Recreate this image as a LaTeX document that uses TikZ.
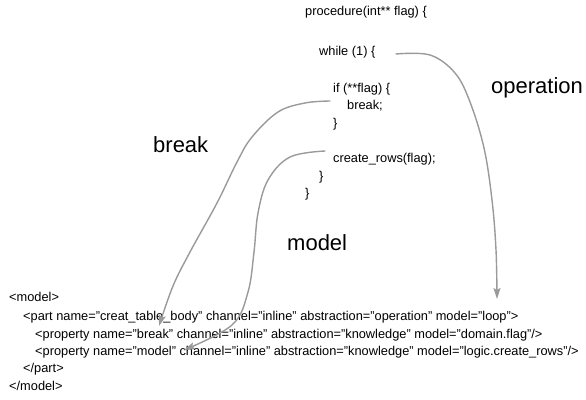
\documentclass[tikz,border=0pt]{standalone}
\usepackage{fontspec}
\setmainfont{Liberation Sans}
\usetikzlibrary{arrows.meta}
\definecolor{linkgray}{HTML}{9A9A9A}
\begin{document}
\begin{tikzpicture}[x=1pt,y=-1pt,
  code/.style={anchor=mid west,inner sep=0pt,font=\fontsize{12.8}{15}\selectfont},
  xml/.style={anchor=mid west,inner sep=0pt,font=\fontsize{12.8}{15}\selectfont},
  tag/.style={anchor=mid west,inner sep=0pt,font=\fontsize{22}{26}\selectfont},
  conn/.style={draw=linkgray,line width=1.4pt,line cap=round,
    -{Stealth[length=11pt,width=7pt,inset=2pt,fill=linkgray]}}]
\useasboundingbox (0,0) rectangle (586,399);

% procedure source
\node[code] (proc)  at (305,13)  {procedure(int** flag) \{};
\node[code] (loop)  at (319,53)  {while (1) \{};
\node[code] (cond)  at (333,90)  {if (**flag) \{};
\node[code] (brk)   at (347,107) {break;};
\node[code] (cend)  at (333,125) {\}};
\node[code] (call)  at (333,160) {create\_rows(flag);};
\node[code] (lend)  at (319,178) {\}};
\node[code] (pend)  at (305,195) {\}};

% abstraction labels
\node[tag] (lop)  at (491,91)  {operation};
\node[tag] (lbrk) at (153,150) {break};
\node[tag] (lmod) at (287,248) {model};

% model description
\node[xml] (m0) at (9,299)  {<model>};
\node[xml] (m1) at (23,318) {<part name="creat\_table\_body" channel="inline" abstraction="operation" model="loop">};
\node[xml] (m2) at (35,336) {<property name="break" channel="inline" abstraction="knowledge" model="domain.flag"/>};
\node[xml] (m3) at (35,353) {<property name="model" channel="inline" abstraction="knowledge" model="logic.create\_rows"/>};
\node[xml] (m4) at (23,370) {</part>};
\node[xml] (m5) at (9,388)  {</model>};

% operation link: while loop -> part element
\coordinate (o0) at (396,54);
\coordinate (o1) at (430,55);
\coordinate (o2) at (455,73);
\coordinate (o3) at (470,102);
\coordinate (o4) at (484,148);
\coordinate (o5) at (492,200);
\coordinate (o6) at (496,250);
\coordinate (o7) at (497,299);
\draw[conn] plot[smooth,tension=0.6] coordinates {(o0) (o1) (o2) (o3) (o4) (o5) (o6) (o7)};

% break link: break statement -> first property
\coordinate (b0) at (330,101);
\coordinate (b1) at (305,103);
\coordinate (b2) at (278,112);
\coordinate (b3) at (252,137);
\coordinate (b4) at (237,162);
\coordinate (b5) at (217,203);
\coordinate (b6) at (190,252);
\coordinate (b7) at (173,286);
\coordinate (b8) at (159,326);
\draw[conn] plot[smooth,tension=0.6] coordinates {(b0) (b1) (b2) (b3) (b4) (b5) (b6) (b7) (b8)};

% model link: create_rows call -> second property
\coordinate (c0) at (325,151);
\coordinate (c1) at (290,157);
\coordinate (c2) at (268,180);
\coordinate (c3) at (258,213);
\coordinate (c4) at (254,252);
\coordinate (c5) at (248,292);
\coordinate (c6) at (232,325);
\coordinate (c7) at (184,350);
\draw[conn] plot[smooth,tension=0.6] coordinates {(c0) (c1) (c2) (c3) (c4) (c5) (c6) (c7)};
\end{tikzpicture}
\end{document}
